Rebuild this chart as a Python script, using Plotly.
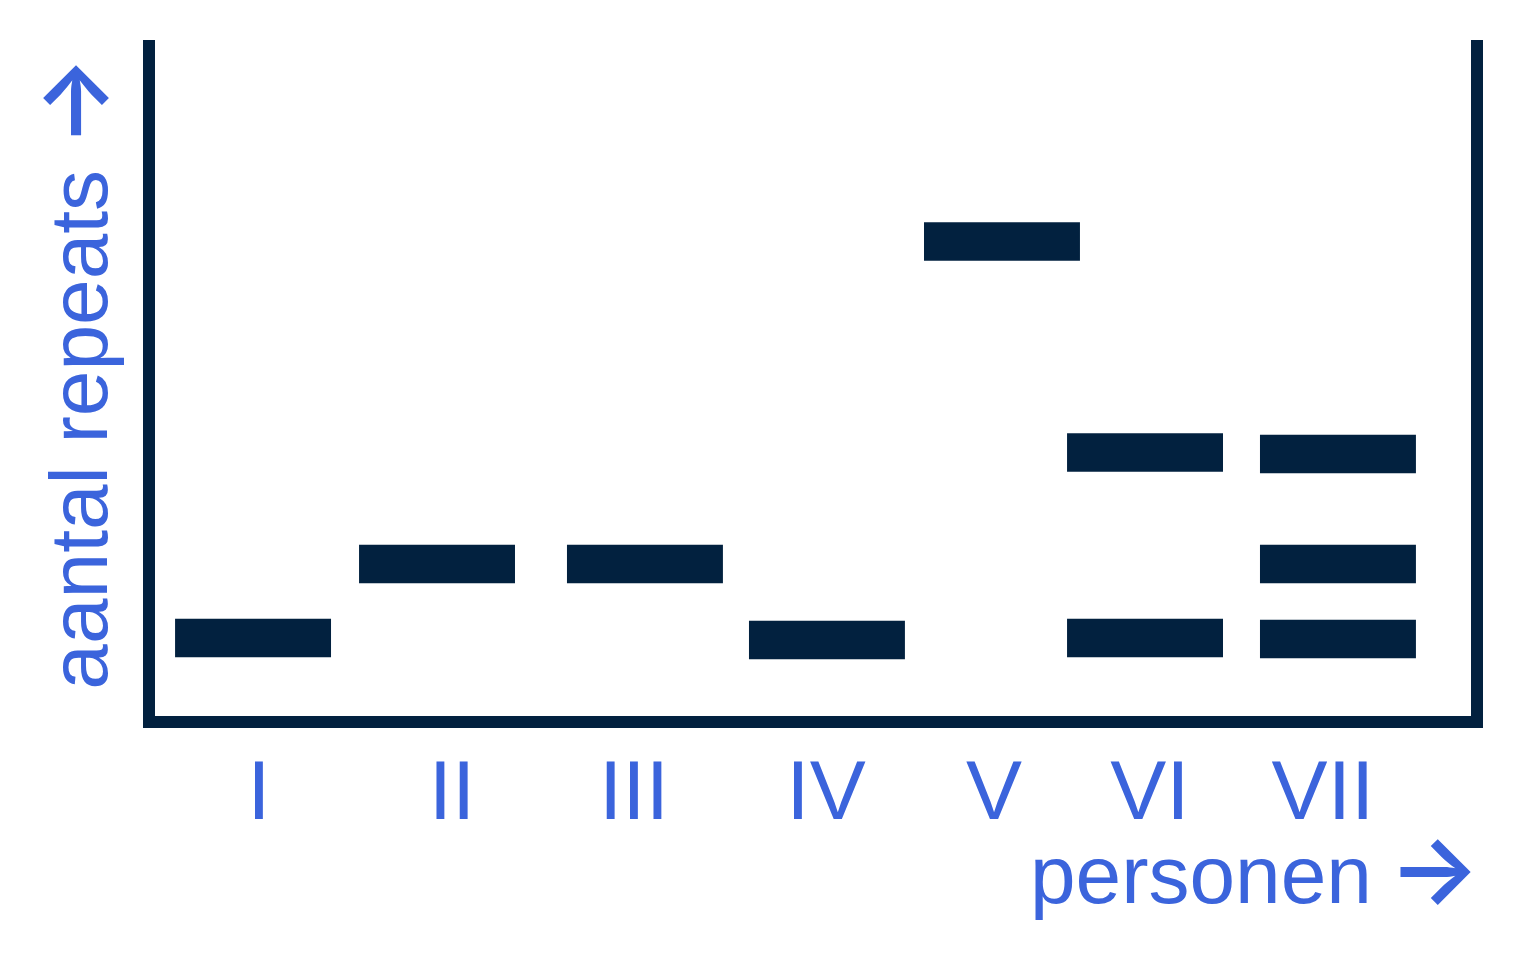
import plotly.graph_objects as go

# lanes (personen) and their band positions (aantal repeats, arbitrary units 0-100)
lanes = ["I", "II", "III", "IV", "V", "VI", "VII"]
lane_pos = [7.45, 21.43, 37.23, 51.06, 64.36, 75.23, 89.89]
label_pos = [7.9, 22.57, 36.4, 50.99, 63.75, 75.61, 88.75]

band_lane = ["I", "II", "III", "IV", "V", "VI", "VI", "VII", "VII", "VII"]
band_repeats = [11.54, 22.49, 22.49, 11.24, 70.2, 38.98, 11.54, 38.76, 22.49, 11.39]

NAVY = "#02213f"
BLUE = "#3b64dc"
FONT = "Liberation Sans, Arial, sans-serif"
ARROW = "<span style='font-family:Inter;font-size:96px;font-weight:600'>→</span>"
GAP = "<span style='font-size:60px'> </span>"
band_h = 5.7
band_w = 11.85

xs = [lane_pos[lanes.index(l)] for l in band_lane]

fig = go.Figure()
fig.add_trace(go.Bar(
    x=xs,
    y=[band_h] * len(band_repeats),
    base=[r - band_h / 2 for r in band_repeats],
    width=band_w,
    marker=dict(color=NAVY, line=dict(width=0)),
    hoverinfo="skip",
))

# page body adds 8px, axis lines sit 6px outside the plot area
fig.update_layout(
    width=1530, height=976,
    margin=dict(l=147, r=67, t=32, b=268),
    plot_bgcolor="white", paper_bgcolor="white",
    showlegend=False,
    font=dict(family=FONT, color=BLUE, size=81),
)
fig.update_xaxes(
    range=[0, 100], showgrid=False, zeroline=False,
    showline=True, linecolor=NAVY, linewidth=12,
    tickmode="array", tickvals=label_pos, ticktext=lanes,
    ticks="", tickfont=dict(size=84, color=BLUE, family=FONT),
    ticklabelstandoff=-10,
)
fig.update_yaxes(
    range=[0, 100], showgrid=False, zeroline=False,
    showline=True, mirror=True, linecolor=NAVY, linewidth=12,
    showticklabels=False, ticks="",
)

fig.add_annotation(
    text="aantal repeats " + ARROW, textangle=-90,
    xref="paper", yref="paper", x=-0.063, y=0.508,
    xanchor="center", yanchor="middle", showarrow=False,
    font=dict(size=82, color=BLUE, family=FONT),
)
fig.add_annotation(
    text="personen" + GAP + ARROW,
    xref="paper", yref="paper", x=1.008, y=-0.225,
    xanchor="right", yanchor="middle", showarrow=False,
    font=dict(size=82, color=BLUE, family=FONT),
)

fig.write_html("out.html")
